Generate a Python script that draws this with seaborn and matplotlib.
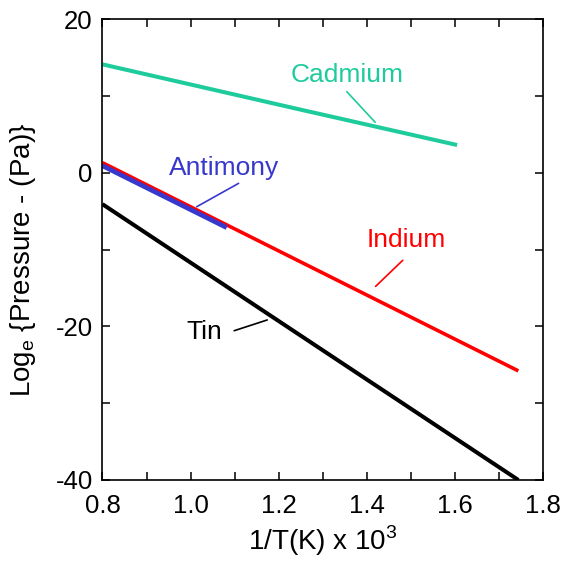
import matplotlib
matplotlib.use("Agg")
import matplotlib.pyplot as plt
import seaborn as sns
import pandas as pd

# Data
cadmium_x = [0.80, 1.25, 1.605]
cadmium_y = [14.1, 8.2, 3.6]
indium_x = [0.80, 1.744]
indium_y = [1.3, -25.8]
antimony_x = [0.80, 1.082]
antimony_y = [0.9, -7.15]
tin_x = [0.80, 1.744]
tin_y = [-4.1, -40.0]

series = [
    ("Cadmium", cadmium_x, cadmium_y, "#1ecb9c", 2.9),
    ("Indium", indium_x, indium_y, "#ff0000", 2.6),
    ("Tin", tin_x, tin_y, "#000000", 2.9),
    ("Antimony", antimony_x, antimony_y, "#3838cc", 3.4),
]

labels = {
    "Cadmium": dict(text=(1.355, 12.7), line=[(1.3545, 10.55), (1.419, 6.56)]),
    "Antimony": dict(text=(1.076, 0.6), line=[(1.109, -1.39), (1.014, -4.43)]),
    "Indium": dict(text=(1.489, -8.8), line=[(1.4815, -11.41), (1.420, -14.8)]),
    "Tin": dict(text=(1.030, -20.75), line=[(1.099, -20.57), (1.174, -19.17)]),
}

sns.set_style("ticks")
plt.rcParams["font.family"] = ["Liberation Sans", "DejaVu Sans"]
plt.rcParams["mathtext.fontset"] = "custom"
plt.rcParams["mathtext.rm"] = "Liberation Sans"
plt.rcParams["text.color"] = "black"
plt.rcParams["axes.labelcolor"] = "black"

fig = plt.figure(figsize=(5.63, 5.61), dpi=100)
ax = fig.add_axes([0.182, 0.1444, 0.7825, 0.8217])

colors = {}
for name, xs, ys, col, lw in series:
    df = pd.DataFrame({"x": xs, "y": ys})
    sns.lineplot(data=df, x="x", y="y", ax=ax, color=col, linewidth=lw,
                 solid_capstyle="butt", clip_on=True)
    colors[name] = col

for name, info in labels.items():
    col = colors[name]
    tx, ty = info["text"]
    ax.text(tx, ty, name, color=col, fontsize=19, ha="center", va="center")
    (x0, y0), (x1, y1) = info["line"]
    ax.plot([x0, x1], [y0, y1], color=col, linewidth=1.2)

ax.set_xlim(0.8, 1.8)
ax.set_ylim(-40, 20)
ax.set_xticks([0.8, 1.0, 1.2, 1.4, 1.6, 1.8])
ax.set_xticklabels(["0.8", "1.0", "1.2", "1.4", "1.6", "1.8"])
ax.set_xticks([0.9, 1.1, 1.3, 1.5, 1.7], minor=True)
ax.set_yticks([-40, -20, 0, 20])
ax.set_yticklabels(["-40", "-20", "0", "20"])
ax.set_yticks([-30, -10, 10], minor=True)

ax.tick_params(which="both", direction="in", top=True, right=True,
               width=1.1, colors="black", labelsize=18.5)
ax.tick_params(which="major", length=6)
ax.tick_params(which="minor", length=6)
ax.tick_params(axis="x", which="both", pad=10)
ax.tick_params(axis="y", which="both", pad=7)

for sp in ax.spines.values():
    sp.set_visible(True)
    sp.set_linewidth(1.2)
    sp.set_color("black")

ax.set_xlabel(r"1/T(K) x 10$^\mathregular{3}$", fontsize=20, labelpad=4)
ax.set_ylabel(r"Log$_\mathregular{e}$ {Pressure - (Pa)}", fontsize=20)
ax.yaxis.set_label_coords(-0.146, 0.477)

fig.savefig("out.png", dpi=100)
